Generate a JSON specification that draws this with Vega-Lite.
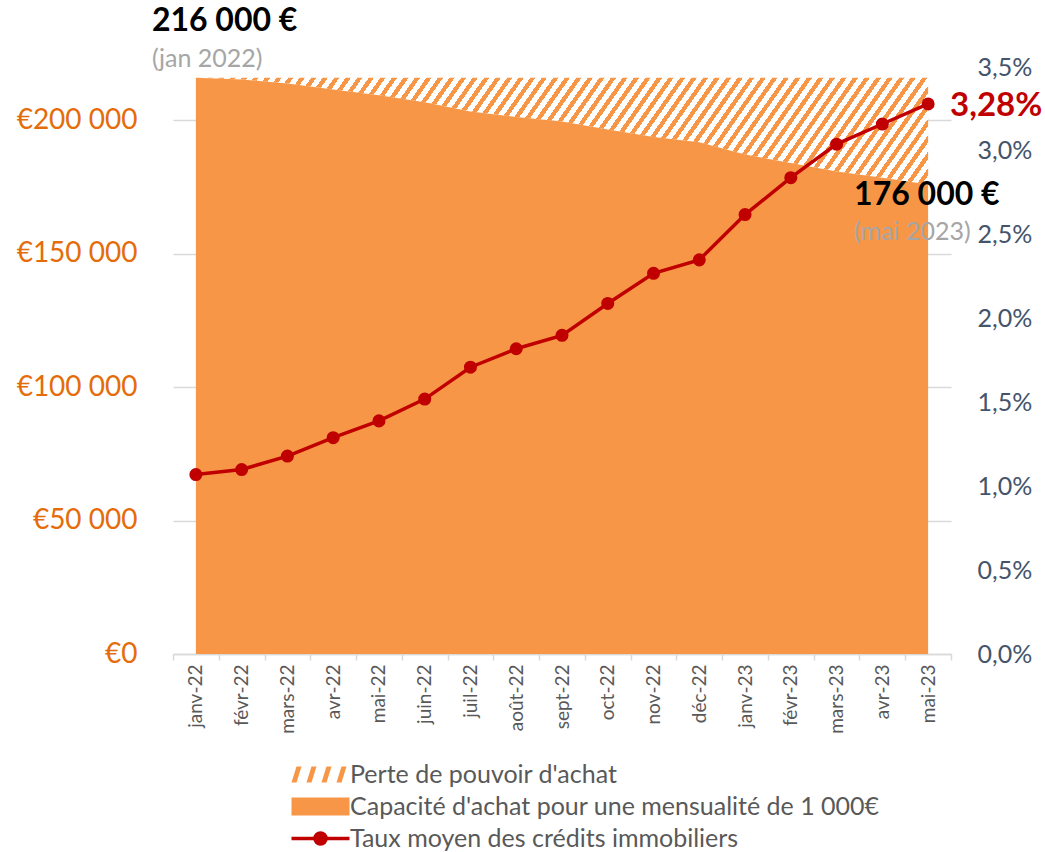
{
"$schema":"https://vega.github.io/schema/vega-lite/v6.json",
"autosize":{"type":"none"},
"width":778,"height":587,
"padding":{"left":173,"top":67,"right":94,"bottom":198},
"background":"white",
"config":{
"locale":{"number":{"decimal":",","thousands":" ","grouping":[3],"currency":["€",""]}},
"font":"Lato",
"view":{"stroke":null},
"legend":{"orient":"none","title":null,"padding":0,"labelFont":"Lato","labelFontSize":25,"labelColor":"#595959","labelLimit":0,"symbolSize":400,"labelOffset":17}
},
"datasets":{
"main":[
{"month":"janv-22","capacity":216000,"ceiling":216000,"rate":0.0107},
{"month":"févr-22","capacity":215300,"ceiling":216000,"rate":0.0110},
{"month":"mars-22","capacity":213800,"ceiling":216000,"rate":0.0118},
{"month":"avr-22","capacity":211600,"ceiling":216000,"rate":0.0129},
{"month":"mai-22","capacity":209400,"ceiling":216000,"rate":0.0139},
{"month":"juin-22","capacity":206800,"ceiling":216000,"rate":0.0152},
{"month":"juil-22","capacity":203300,"ceiling":216000,"rate":0.0171},
{"month":"août-22","capacity":201300,"ceiling":216000,"rate":0.0182},
{"month":"sept-22","capacity":199600,"ceiling":216000,"rate":0.0190},
{"month":"oct-22","capacity":196600,"ceiling":216000,"rate":0.0209},
{"month":"nov-22","capacity":193800,"ceiling":216000,"rate":0.0227},
{"month":"déc-22","capacity":191800,"ceiling":216000,"rate":0.0235},
{"month":"janv-23","capacity":187200,"ceiling":216000,"rate":0.0262},
{"month":"févr-23","capacity":184000,"ceiling":216000,"rate":0.0284},
{"month":"mars-23","capacity":180800,"ceiling":216000,"rate":0.0304},
{"month":"avr-23","capacity":178500,"ceiling":216000,"rate":0.0316},
{"month":"mai-23","capacity":176000,"ceiling":216000,"rate":0.0328}
],
"annJan":[{"month":"janv-22","value":216000,"label":"216 000 €","note":"(jan 2022)"}],
"annMai":[{"month":"mai-23","value":176000,"label":"176 000 €","note":"(mai 2023)"}]
},
"resolve":{"scale":{"y":"independent"}},
"layer":[
{"layer":[
{"data":{"name":"main"},
"mark":{"type":"area","interpolate":"linear","fill":{"gradient":"linear","x1":0,"y1":0,"x2":1.0908,"y2":0.1115,"stops":[
{"offset":0,"color":"#F79646"},{"offset":0.0064,"color":"#F79646"},{"offset":0.0064,"color":"#ffffff"},{"offset":0.0143,"color":"#ffffff"},
{"offset":0.0143,"color":"#F79646"},{"offset":0.0207,"color":"#F79646"},{"offset":0.0207,"color":"#ffffff"},{"offset":0.0286,"color":"#ffffff"},
{"offset":0.0286,"color":"#F79646"},{"offset":0.035,"color":"#F79646"},{"offset":0.035,"color":"#ffffff"},{"offset":0.0429,"color":"#ffffff"},
{"offset":0.0429,"color":"#F79646"},{"offset":0.0493,"color":"#F79646"},{"offset":0.0493,"color":"#ffffff"},{"offset":0.0571,"color":"#ffffff"},
{"offset":0.0571,"color":"#F79646"},{"offset":0.0636,"color":"#F79646"},{"offset":0.0636,"color":"#ffffff"},{"offset":0.0714,"color":"#ffffff"},
{"offset":0.0714,"color":"#F79646"},{"offset":0.0779,"color":"#F79646"},{"offset":0.0779,"color":"#ffffff"},{"offset":0.0857,"color":"#ffffff"},
{"offset":0.0857,"color":"#F79646"},{"offset":0.0921,"color":"#F79646"},{"offset":0.0921,"color":"#ffffff"},{"offset":0.1,"color":"#ffffff"},
{"offset":0.1,"color":"#F79646"},{"offset":0.1064,"color":"#F79646"},{"offset":0.1064,"color":"#ffffff"},{"offset":0.1143,"color":"#ffffff"},
{"offset":0.1143,"color":"#F79646"},{"offset":0.1207,"color":"#F79646"},{"offset":0.1207,"color":"#ffffff"},{"offset":0.1286,"color":"#ffffff"},
{"offset":0.1286,"color":"#F79646"},{"offset":0.135,"color":"#F79646"},{"offset":0.135,"color":"#ffffff"},{"offset":0.1429,"color":"#ffffff"},
{"offset":0.1429,"color":"#F79646"},{"offset":0.1493,"color":"#F79646"},{"offset":0.1493,"color":"#ffffff"},{"offset":0.1571,"color":"#ffffff"},
{"offset":0.1571,"color":"#F79646"},{"offset":0.1636,"color":"#F79646"},{"offset":0.1636,"color":"#ffffff"},{"offset":0.1714,"color":"#ffffff"},
{"offset":0.1714,"color":"#F79646"},{"offset":0.1779,"color":"#F79646"},{"offset":0.1779,"color":"#ffffff"},{"offset":0.1857,"color":"#ffffff"},
{"offset":0.1857,"color":"#F79646"},{"offset":0.1921,"color":"#F79646"},{"offset":0.1921,"color":"#ffffff"},{"offset":0.2,"color":"#ffffff"},
{"offset":0.2,"color":"#F79646"},{"offset":0.2064,"color":"#F79646"},{"offset":0.2064,"color":"#ffffff"},{"offset":0.2143,"color":"#ffffff"},
{"offset":0.2143,"color":"#F79646"},{"offset":0.2207,"color":"#F79646"},{"offset":0.2207,"color":"#ffffff"},{"offset":0.2286,"color":"#ffffff"},
{"offset":0.2286,"color":"#F79646"},{"offset":0.235,"color":"#F79646"},{"offset":0.235,"color":"#ffffff"},{"offset":0.2429,"color":"#ffffff"},
{"offset":0.2429,"color":"#F79646"},{"offset":0.2493,"color":"#F79646"},{"offset":0.2493,"color":"#ffffff"},{"offset":0.2571,"color":"#ffffff"},
{"offset":0.2571,"color":"#F79646"},{"offset":0.2636,"color":"#F79646"},{"offset":0.2636,"color":"#ffffff"},{"offset":0.2714,"color":"#ffffff"},
{"offset":0.2714,"color":"#F79646"},{"offset":0.2779,"color":"#F79646"},{"offset":0.2779,"color":"#ffffff"},{"offset":0.2857,"color":"#ffffff"},
{"offset":0.2857,"color":"#F79646"},{"offset":0.2921,"color":"#F79646"},{"offset":0.2921,"color":"#ffffff"},{"offset":0.3,"color":"#ffffff"},
{"offset":0.3,"color":"#F79646"},{"offset":0.3064,"color":"#F79646"},{"offset":0.3064,"color":"#ffffff"},{"offset":0.3143,"color":"#ffffff"},
{"offset":0.3143,"color":"#F79646"},{"offset":0.3207,"color":"#F79646"},{"offset":0.3207,"color":"#ffffff"},{"offset":0.3286,"color":"#ffffff"},
{"offset":0.3286,"color":"#F79646"},{"offset":0.335,"color":"#F79646"},{"offset":0.335,"color":"#ffffff"},{"offset":0.3429,"color":"#ffffff"},
{"offset":0.3429,"color":"#F79646"},{"offset":0.3493,"color":"#F79646"},{"offset":0.3493,"color":"#ffffff"},{"offset":0.3571,"color":"#ffffff"},
{"offset":0.3571,"color":"#F79646"},{"offset":0.3636,"color":"#F79646"},{"offset":0.3636,"color":"#ffffff"},{"offset":0.3714,"color":"#ffffff"},
{"offset":0.3714,"color":"#F79646"},{"offset":0.3779,"color":"#F79646"},{"offset":0.3779,"color":"#ffffff"},{"offset":0.3857,"color":"#ffffff"},
{"offset":0.3857,"color":"#F79646"},{"offset":0.3921,"color":"#F79646"},{"offset":0.3921,"color":"#ffffff"},{"offset":0.4,"color":"#ffffff"},
{"offset":0.4,"color":"#F79646"},{"offset":0.4064,"color":"#F79646"},{"offset":0.4064,"color":"#ffffff"},{"offset":0.4143,"color":"#ffffff"},
{"offset":0.4143,"color":"#F79646"},{"offset":0.4207,"color":"#F79646"},{"offset":0.4207,"color":"#ffffff"},{"offset":0.4286,"color":"#ffffff"},
{"offset":0.4286,"color":"#F79646"},{"offset":0.435,"color":"#F79646"},{"offset":0.435,"color":"#ffffff"},{"offset":0.4429,"color":"#ffffff"},
{"offset":0.4429,"color":"#F79646"},{"offset":0.4493,"color":"#F79646"},{"offset":0.4493,"color":"#ffffff"},{"offset":0.4571,"color":"#ffffff"},
{"offset":0.4571,"color":"#F79646"},{"offset":0.4636,"color":"#F79646"},{"offset":0.4636,"color":"#ffffff"},{"offset":0.4714,"color":"#ffffff"},
{"offset":0.4714,"color":"#F79646"},{"offset":0.4779,"color":"#F79646"},{"offset":0.4779,"color":"#ffffff"},{"offset":0.4857,"color":"#ffffff"},
{"offset":0.4857,"color":"#F79646"},{"offset":0.4921,"color":"#F79646"},{"offset":0.4921,"color":"#ffffff"},{"offset":0.5,"color":"#ffffff"},
{"offset":0.5,"color":"#F79646"},{"offset":0.5064,"color":"#F79646"},{"offset":0.5064,"color":"#ffffff"},{"offset":0.5143,"color":"#ffffff"},
{"offset":0.5143,"color":"#F79646"},{"offset":0.5207,"color":"#F79646"},{"offset":0.5207,"color":"#ffffff"},{"offset":0.5286,"color":"#ffffff"},
{"offset":0.5286,"color":"#F79646"},{"offset":0.535,"color":"#F79646"},{"offset":0.535,"color":"#ffffff"},{"offset":0.5429,"color":"#ffffff"},
{"offset":0.5429,"color":"#F79646"},{"offset":0.5493,"color":"#F79646"},{"offset":0.5493,"color":"#ffffff"},{"offset":0.5571,"color":"#ffffff"},
{"offset":0.5571,"color":"#F79646"},{"offset":0.5636,"color":"#F79646"},{"offset":0.5636,"color":"#ffffff"},{"offset":0.5714,"color":"#ffffff"},
{"offset":0.5714,"color":"#F79646"},{"offset":0.5779,"color":"#F79646"},{"offset":0.5779,"color":"#ffffff"},{"offset":0.5857,"color":"#ffffff"},
{"offset":0.5857,"color":"#F79646"},{"offset":0.5921,"color":"#F79646"},{"offset":0.5921,"color":"#ffffff"},{"offset":0.6,"color":"#ffffff"},
{"offset":0.6,"color":"#F79646"},{"offset":0.6064,"color":"#F79646"},{"offset":0.6064,"color":"#ffffff"},{"offset":0.6143,"color":"#ffffff"},
{"offset":0.6143,"color":"#F79646"},{"offset":0.6207,"color":"#F79646"},{"offset":0.6207,"color":"#ffffff"},{"offset":0.6286,"color":"#ffffff"},
{"offset":0.6286,"color":"#F79646"},{"offset":0.635,"color":"#F79646"},{"offset":0.635,"color":"#ffffff"},{"offset":0.6429,"color":"#ffffff"},
{"offset":0.6429,"color":"#F79646"},{"offset":0.6493,"color":"#F79646"},{"offset":0.6493,"color":"#ffffff"},{"offset":0.6571,"color":"#ffffff"},
{"offset":0.6571,"color":"#F79646"},{"offset":0.6636,"color":"#F79646"},{"offset":0.6636,"color":"#ffffff"},{"offset":0.6714,"color":"#ffffff"},
{"offset":0.6714,"color":"#F79646"},{"offset":0.6779,"color":"#F79646"},{"offset":0.6779,"color":"#ffffff"},{"offset":0.6857,"color":"#ffffff"},
{"offset":0.6857,"color":"#F79646"},{"offset":0.6921,"color":"#F79646"},{"offset":0.6921,"color":"#ffffff"},{"offset":0.7,"color":"#ffffff"},
{"offset":0.7,"color":"#F79646"},{"offset":0.7064,"color":"#F79646"},{"offset":0.7064,"color":"#ffffff"},{"offset":0.7143,"color":"#ffffff"},
{"offset":0.7143,"color":"#F79646"},{"offset":0.7207,"color":"#F79646"},{"offset":0.7207,"color":"#ffffff"},{"offset":0.7286,"color":"#ffffff"},
{"offset":0.7286,"color":"#F79646"},{"offset":0.735,"color":"#F79646"},{"offset":0.735,"color":"#ffffff"},{"offset":0.7429,"color":"#ffffff"},
{"offset":0.7429,"color":"#F79646"},{"offset":0.7493,"color":"#F79646"},{"offset":0.7493,"color":"#ffffff"},{"offset":0.7571,"color":"#ffffff"},
{"offset":0.7571,"color":"#F79646"},{"offset":0.7636,"color":"#F79646"},{"offset":0.7636,"color":"#ffffff"},{"offset":0.7714,"color":"#ffffff"},
{"offset":0.7714,"color":"#F79646"},{"offset":0.7779,"color":"#F79646"},{"offset":0.7779,"color":"#ffffff"},{"offset":0.7857,"color":"#ffffff"},
{"offset":0.7857,"color":"#F79646"},{"offset":0.7921,"color":"#F79646"},{"offset":0.7921,"color":"#ffffff"},{"offset":0.8,"color":"#ffffff"},
{"offset":0.8,"color":"#F79646"},{"offset":0.8064,"color":"#F79646"},{"offset":0.8064,"color":"#ffffff"},{"offset":0.8143,"color":"#ffffff"},
{"offset":0.8143,"color":"#F79646"},{"offset":0.8207,"color":"#F79646"},{"offset":0.8207,"color":"#ffffff"},{"offset":0.8286,"color":"#ffffff"},
{"offset":0.8286,"color":"#F79646"},{"offset":0.835,"color":"#F79646"},{"offset":0.835,"color":"#ffffff"},{"offset":0.8429,"color":"#ffffff"},
{"offset":0.8429,"color":"#F79646"},{"offset":0.8493,"color":"#F79646"},{"offset":0.8493,"color":"#ffffff"},{"offset":0.8571,"color":"#ffffff"},
{"offset":0.8571,"color":"#F79646"},{"offset":0.8636,"color":"#F79646"},{"offset":0.8636,"color":"#ffffff"},{"offset":0.8714,"color":"#ffffff"},
{"offset":0.8714,"color":"#F79646"},{"offset":0.8779,"color":"#F79646"},{"offset":0.8779,"color":"#ffffff"},{"offset":0.8857,"color":"#ffffff"},
{"offset":0.8857,"color":"#F79646"},{"offset":0.8921,"color":"#F79646"},{"offset":0.8921,"color":"#ffffff"},{"offset":0.9,"color":"#ffffff"},
{"offset":0.9,"color":"#F79646"},{"offset":0.9064,"color":"#F79646"},{"offset":0.9064,"color":"#ffffff"},{"offset":0.9143,"color":"#ffffff"},
{"offset":0.9143,"color":"#F79646"},{"offset":0.9207,"color":"#F79646"},{"offset":0.9207,"color":"#ffffff"},{"offset":0.9286,"color":"#ffffff"},
{"offset":0.9286,"color":"#F79646"},{"offset":0.935,"color":"#F79646"},{"offset":0.935,"color":"#ffffff"},{"offset":0.9429,"color":"#ffffff"},
{"offset":0.9429,"color":"#F79646"},{"offset":0.9493,"color":"#F79646"},{"offset":0.9493,"color":"#ffffff"},{"offset":0.9571,"color":"#ffffff"},
{"offset":0.9571,"color":"#F79646"},{"offset":0.9636,"color":"#F79646"},{"offset":0.9636,"color":"#ffffff"},{"offset":0.9714,"color":"#ffffff"},
{"offset":0.9714,"color":"#F79646"},{"offset":0.9779,"color":"#F79646"},{"offset":0.9779,"color":"#ffffff"},{"offset":0.9857,"color":"#ffffff"},
{"offset":0.9857,"color":"#F79646"},{"offset":0.9921,"color":"#F79646"},{"offset":0.9921,"color":"#ffffff"},{"offset":1,"color":"#ffffff"}
]}},
"encoding":{
"x":{"field":"month","type":"ordinal","bandPosition":0.5,
"scale":{"type":"band","domain":["janv-22","févr-22","mars-22","avr-22","mai-22","juin-22","juil-22","août-22","sept-22","oct-22","nov-22","déc-22","janv-23","févr-23","mars-23","avr-23","mai-23"],"paddingInner":0,"paddingOuter":0},
"axis":{"title":null,"orient":"bottom","labelAngle":-90,"labelFont":"Lato","labelFontSize":19,"labelColor":"#595959","labelPadding":4,"domain":true,"domainColor":"#d9d9d9","domainWidth":1.5,"ticks":true,"tickColor":"#d9d9d9","tickWidth":1.5,"tickSize":6,"tickBand":"extent","grid":false}},
"y":{"field":"ceiling","type":"quantitative","scale":{"domain":[0,220000],"nice":false},
"axis":{"title":null,"orient":"left","values":[0,50000,100000,150000,200000],"format":"$,.0f","labelFont":"Lato","labelFontSize":28,"labelColor":"#E46C0A","labelPadding":36,"ticks":false,"domain":false,"grid":true,"gridColor":"#d9d9d9","gridWidth":1.5}},
"y2":{"field":"capacity"}
}},
{"data":{"name":"main"},
"mark":{"type":"area","interpolate":"linear"},
"encoding":{
"x":{"field":"month","type":"ordinal","bandPosition":0.5},
"y":{"field":"capacity","type":"quantitative"},
"fill":{"datum":"Capacité d'achat pour une mensualité de 1 000€",
"scale":{"domain":["Capacité d'achat pour une mensualité de 1 000€"],"range":["#F79646"]},
"legend":{"legendX":135,"legendY":727,"symbolType":"M-2.9,-0.9H2.9V0.9H-2.9Z","symbolStrokeWidth":0}},
"opacity":{"datum":"Perte de pouvoir d'achat","type":"ordinal",
"scale":{"domain":["Perte de pouvoir d'achat"],"range":[1]},
"legend":{"legendX":135,"legendY":695,"symbolType":"M-2.9,0.8L-2.4,0.8L-1.9,-0.8L-2.4,-0.8Z M-1.4,0.8L-0.9,0.8L-0.4,-0.8L-0.9,-0.8Z M0.1,0.8L0.6,0.8L1.1,-0.8L0.6,-0.8Z M1.6,0.8L2.1,0.8L2.6,-0.8L2.1,-0.8Z","symbolFillColor":"#F79646","symbolStrokeWidth":0}}
}},
{"data":{"name":"annJan"},
"mark":{"type":"text","align":"left","baseline":"alphabetic","dx":-44,"dy":-47,"font":"Lato","fontSize":32,"fontWeight":"bold","color":"#000000"},
"encoding":{"x":{"field":"month","type":"ordinal","bandPosition":0.5},"y":{"field":"value","type":"quantitative"},"text":{"field":"label"}}},
{"data":{"name":"annJan"},
"mark":{"type":"text","align":"left","baseline":"alphabetic","dx":-44,"dy":-11,"font":"Lato","fontSize":25,"color":"#A6A6A6"},
"encoding":{"x":{"field":"month","type":"ordinal","bandPosition":0.5},"y":{"field":"value","type":"quantitative"},"text":{"field":"note"}}},
{"data":{"name":"annMai"},
"mark":{"type":"text","align":"left","baseline":"alphabetic","dx":-74,"dy":21,"font":"Lato","fontSize":32,"fontWeight":"bold","color":"#000000"},
"encoding":{"x":{"field":"month","type":"ordinal","bandPosition":0.5},"y":{"field":"value","type":"quantitative"},"text":{"field":"label"}}},
{"data":{"name":"annMai"},
"mark":{"type":"text","align":"left","baseline":"alphabetic","dx":-74,"dy":56,"font":"Lato","fontSize":25,"color":"#A6A6A6"},
"encoding":{"x":{"field":"month","type":"ordinal","bandPosition":0.5},"y":{"field":"value","type":"quantitative"},"text":{"field":"note"}}}
]},
{"layer":[
{"data":{"name":"main"},
"mark":{"type":"line","strokeWidth":3.5,"interpolate":"linear"},
"encoding":{
"x":{"field":"month","type":"ordinal","bandPosition":0.5},
"y":{"field":"rate","type":"quantitative","scale":{"domain":[0,0.035],"nice":false},
"axis":{"title":null,"orient":"right","values":[0,0.005,0.01,0.015,0.02,0.025,0.03,0.035],"format":".1%","labelFont":"Lato","labelFontSize":25,"labelColor":"#44546A","labelPadding":26,"ticks":false,"domain":false,"grid":false}},
"stroke":{"datum":"Taux moyen des crédits immobiliers",
"scale":{"domain":["Taux moyen des crédits immobiliers"],"range":["#C00000"]},
"legend":{"legendX":135,"legendY":759,"symbolType":"M-2.9,0H2.9M-0.55,0A0.55,0.55,0,1,0,0.55,0A0.55,0.55,0,1,0,-0.55,0M-0.25,0A0.25,0.25,0,1,0,0.25,0A0.25,0.25,0,1,0,-0.25,0","symbolStrokeColor":"#C00000","symbolFillColor":"#C00000","symbolStrokeWidth":3.5}}
}},
{"data":{"name":"main"},
"mark":{"type":"point","filled":true,"size":170,"opacity":1,"color":"#C00000"},
"encoding":{
"x":{"field":"month","type":"ordinal","bandPosition":0.5},
"y":{"field":"rate","type":"quantitative"}
}},
{"data":{"name":"main"},
"transform":[{"filter":"datum.month === 'mai-23'"}],
"mark":{"type":"text","align":"left","baseline":"middle","dx":22,"dy":2,"font":"Lato","fontSize":33,"fontWeight":"bold","color":"#C00000"},
"encoding":{
"x":{"field":"month","type":"ordinal","bandPosition":0.5},
"y":{"field":"rate","type":"quantitative"},
"text":{"field":"rate","type":"quantitative","format":".2%"}
}}
]}
]
}
